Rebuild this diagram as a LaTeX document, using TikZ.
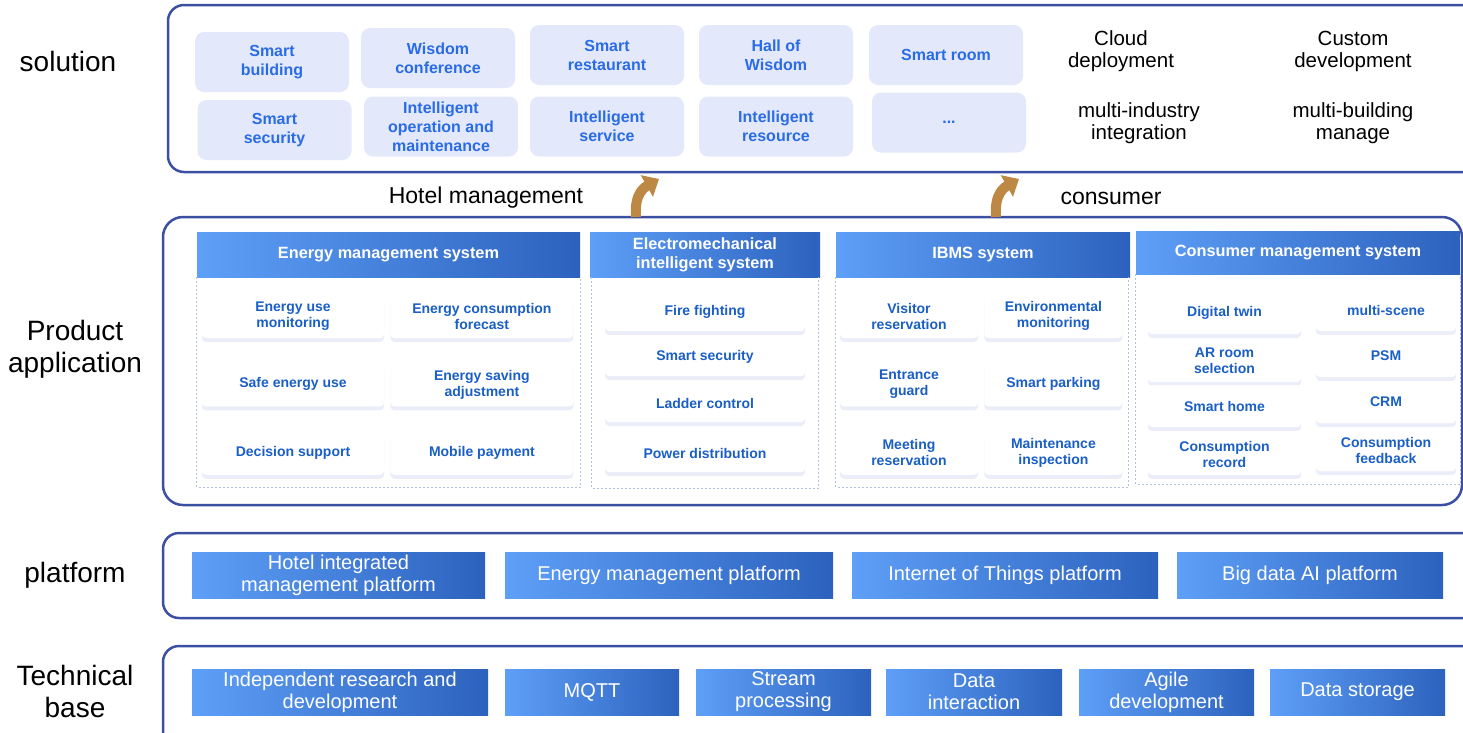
\documentclass[tikz,border=0pt]{standalone}
\usepackage{fontspec}
\setmainfont{Liberation Sans}
\usetikzlibrary{positioning,shadows,arrows.meta}

\definecolor{frame}{HTML}{3B4FA3}
\definecolor{tilebg}{HTML}{E3E9FA}
\definecolor{soltxt}{HTML}{2A6BE6}
\definecolor{itemtxt}{HTML}{1A5FC6}
\definecolor{hdrL}{HTML}{5E9FF8}
\definecolor{hdrR}{HTML}{2C62BD}
\definecolor{dashc}{HTML}{B2BFDD}
\definecolor{shadowc}{HTML}{9AACDB}
\definecolor{arrowc}{HTML}{BD8744}

\tikzset{
 layer/.style={draw=frame, line width=2.5pt, rounded corners=16pt},
 side/.style={align=center, font=\fontsize{28}{32}\selectfont},
 soltile/.style={fill=tilebg, rounded corners=9pt, minimum width=154pt, minimum height=60pt, inner sep=0pt, align=center, text=soltxt, font=\bfseries\fontsize{16}{19}\selectfont},
 feature/.style={align=center, font=\fontsize{20.5}{22}\selectfont},
 hdr/.style={left color=hdrL, right color=hdrR, minimum height=45pt, inner sep=0pt, align=center, text=white, font=\bfseries\fontsize{16.3}{19}\selectfont},
 dashbox/.style={draw=dashc, line width=1.3pt, dash pattern=on 2pt off 2pt},
 item/.style={fill=white, rounded corners=4pt, inner sep=0pt, minimum height=44pt, align=center, text=itemtxt, font=\bfseries\fontsize{14}{16}\selectfont, drop shadow={shadow xshift=0pt, shadow yshift=-4pt, opacity=0.2, fill=shadowc}},
 base/.style={left color=hdrL, right color=hdrR, minimum height=46pt, inner sep=0pt, align=center, text=white, font=\fontsize{20}{22}\selectfont},
 uparrow/.style={line width=10pt, arrowc, -{Triangle[width=24pt,length=14pt]}}
}

\begin{document}
\begin{tikzpicture}[x=1pt,y=-1pt]
\useasboundingbox (0,0) rectangle (1463,732);

\draw[layer] (168,5) rectangle (1480,172); \draw[layer, rounded corners=20pt] (163,217) rectangle (1462,505);
\draw[layer] (163,533) rectangle (1480,618); \draw[layer] (163,646) rectangle (1480,760);

\node[side] (l1) at (68,61) {solution}; \node[side] (l2) at (75,349) {Product\\application};
\node[side] (l3) at (75,575) {platform}; \node[side] (l4) at (75,691) {Technical\\base};

\node[soltile] (s1) at (272,62) {Smart\\building}; \node[soltile] (s2) at (438,58) {Wisdom\\conference};
\node[soltile] (s3) at (607,55) {Smart\\restaurant}; \node[soltile] (s4) at (776,55) {Hall of\\Wisdom};
\node[soltile] (s5) at (946,55) {Smart room};
\node[soltile] (s6) at (274.5,130) {Smart\\security}; \node[soltile] (s7) at (441,126.5) {Intelligent\\operation and\\maintenance};
\node[soltile] (s8) at (607,126.5) {Intelligent\\service}; \node[soltile] (s9) at (776,126.5) {Intelligent\\resource};
\node[soltile] (s10) at (949,122.5) {...};

\node[feature] (f1) at (1121,51) {Cloud\\deployment}; \node[feature] (f2) at (1353,51) {Custom\\development};
\node[feature] (f3) at (1139,123) {multi-industry\\integration}; \node[feature] (f4) at (1353,123) {multi-building\\manage};

\node[font=\fontsize{23}{26}\selectfont] (t1l) at (486,198) {Hotel management};
\node[font=\fontsize{23}{26}\selectfont] (t2l) at (1111,198) {consumer};

% product application
\node[hdr, minimum width=383pt] (h1) at (388.5,254.5) {Energy management system};
\node[hdr, minimum width=230pt] (h2) at (705,254.5) {Electromechanical\\intelligent system};
\node[hdr, minimum width=294pt] (h3) at (983,254.5) {IBMS system};
\node[hdr, minimum width=324pt, minimum height=43pt] (h4) at (1298,252.5) {Consumer management system};
\draw[dashbox] (h1.south west) -- ++(0,210) -| (h1.south east);
\draw[dashbox] ([xshift=2pt]h2.south west) -- ++(0,211) -| ([xshift=-2pt]h2.south east);
\draw[dashbox] (h3.south west) -- ++(0,210) -| ([xshift=-2pt]h3.south east);
\draw[dashbox] (h4.south west) -- ++(0,210) -| (h4.south east);

\node[item, minimum width=182pt] (e1) at (293,316) {Energy use\\monitoring};
\node[item, minimum width=183pt, right=6pt of e1] (e2) {Energy consumption\\forecast};
\node[item, minimum width=182pt, below=24pt of e1] (e3) {Safe energy use};
\node[item, minimum width=183pt, below=24pt of e2] (e4) {Energy saving\\adjustment};
\node[item, minimum width=182pt, below=24pt of e3] (e5) {Decision support};
\node[item, minimum width=183pt, below=24pt of e4] (e6) {Mobile payment};

\node[item, minimum width=200pt, minimum height=38pt] (m1) at (705,312) {Fire fighting};
\node[item, minimum width=200pt, minimum height=38pt] (m2) at (705,357) {Smart security};
\node[item, minimum width=200pt, minimum height=38pt] (m3) at (705,403) {Ladder control};
\node[item, minimum width=200pt, minimum height=38pt] (m4) at (705,453) {Power distribution};

\node[item, minimum width=138pt] (i1) at (909,316) {Visitor\\reservation};
\node[item, minimum width=138pt, right=6pt of i1] (i2) {Environmental\\monitoring};
\node[item, minimum width=138pt, below=24pt of i1] (i3) {Entrance\\guard};
\node[item, minimum width=138pt, below=24pt of i2] (i4) {Smart parking};
\node[item, minimum width=138pt, below=24pt of i3] (i5) {Meeting\\reservation};
\node[item, minimum width=138pt, below=24pt of i4] (i6) {Maintenance\\inspection};

\node[item, minimum width=153pt, minimum height=42pt] (c1) at (1224.5,313) {Digital twin};
\node[item, minimum width=153pt, minimum height=42pt] (c3) at (1224.5,361) {AR room\\selection};
\node[item, minimum width=153pt, minimum height=42pt] (c5) at (1224.5,406) {Smart home};
\node[item, minimum width=153pt, minimum height=42pt] (c7) at (1224.5,454) {Consumption\\record};
\node[item, minimum width=140pt, minimum height=42pt] (c2) at (1386,310) {multi-scene};
\node[item, minimum width=140pt, minimum height=42pt] (c4) at (1386,356) {PSM};
\node[item, minimum width=140pt, minimum height=42pt] (c6) at (1386,402) {CRM};
\node[item, minimum width=140pt, minimum height=42pt] (c8) at (1386,450) {Consumption\\feedback};

% platform and technical base
\node[base, minimum width=293pt] (p1) at (338.5,575.5) {Hotel integrated\\management platform};
\node[base, minimum width=328pt] (p2) at (669,575.5) {Energy management platform};
\node[base, minimum width=306pt] (p3) at (1005,575.5) {Internet of Things platform};
\node[base, minimum width=266pt] (p4) at (1310,575.5) {Big data AI platform};

\node[base, minimum width=296pt] (t1) at (340,692) {Independent research and\\development};
\node[base, minimum width=174pt] (t2) at (592,692) {MQTT};
\node[base, minimum width=175pt] (t3) at (783.5,692) {Stream\\processing};
\node[base, minimum width=176pt] (t4) at (974,692) {Data\\interaction};
\node[base, minimum width=175pt] (t5) at (1166.5,692) {Agile\\development};
\node[base, minimum width=175pt] (t6) at (1357.5,692) {Data storage};

\coordinate (a1) at (636,217); \coordinate (a2) at (659,179);
\coordinate (b1) at (996,217); \coordinate (b2) at (1019,179);
\draw[uparrow] (a1) .. controls +(-2,-24) and +(-14,8) .. (a2);
\draw[uparrow] (b1) .. controls +(-2,-24) and +(-14,8) .. (b2);
\end{tikzpicture}
\end{document}
